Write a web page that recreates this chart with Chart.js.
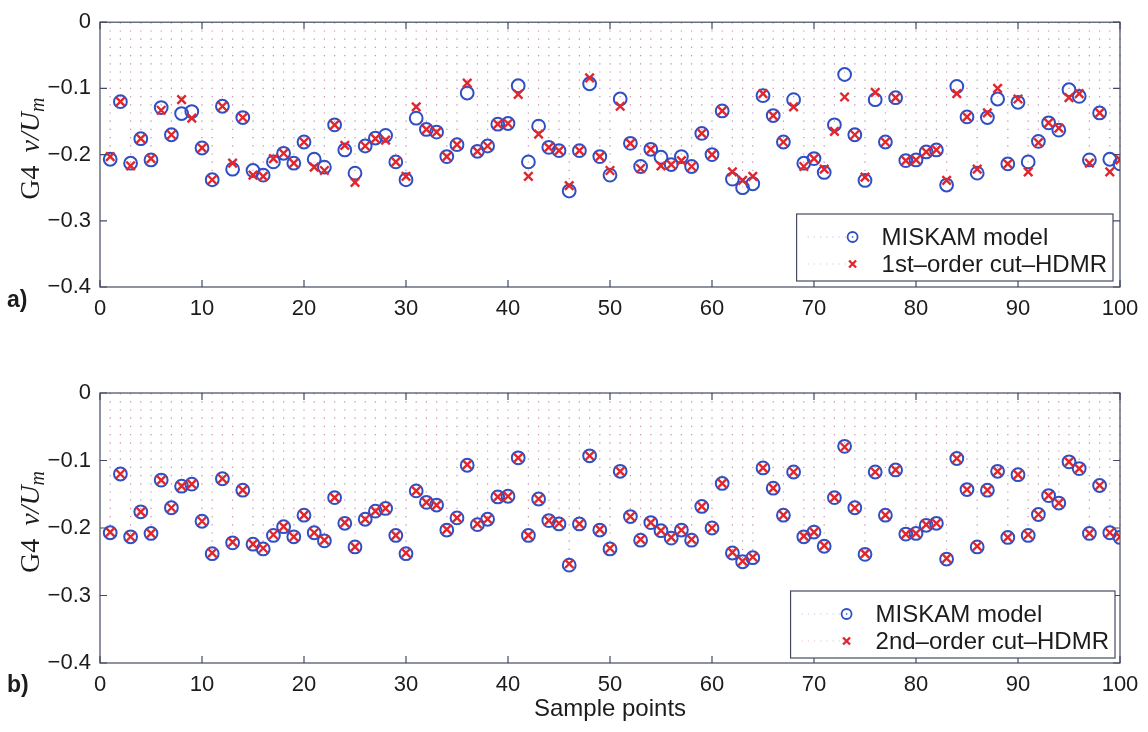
<!DOCTYPE html>
<html>
<head>
<meta charset="utf-8">
<script src="https://cdn.jsdelivr.net/npm/chart.js@4.4.0/dist/chart.umd.min.js"></script>
<style>
  html, body { margin: 0; padding: 0; background: #fff; }
  #wrap { position: relative; width: 1148px; height: 732px; }
  canvas { position: absolute; left: 0; }
  #panel-a { top: 0; }
  #panel-b { top: 366px; }
</style>
</head>
<body>
<div id="wrap">
  <canvas id="panel-a" width="1148" height="366"></canvas>
  <canvas id="panel-b" width="1148" height="366"></canvas>
</div>
<script>
// Datos: G4 v/U_m en cada punto de muestra
const samplePoints = [
  1, 2, 3, 4, 5, 6, 7, 8, 9, 10, 11, 12, 13, 14, 15, 16, 17, 18, 19, 20,
  21, 22, 23, 24, 25, 26, 27, 28, 29, 30, 31, 32, 33, 34, 35, 36, 37, 38, 39, 40,
  41, 42, 43, 44, 45, 46, 47, 48, 49, 50, 51, 52, 53, 54, 55, 56, 57, 58, 59, 60,
  61, 62, 63, 64, 65, 66, 67, 68, 69, 70, 71, 72, 73, 74, 75, 76, 77, 78, 79, 80,
  81, 82, 83, 84, 85, 86, 87, 88, 89, 90, 91, 92, 93, 94, 95, 96, 97, 98, 99, 100
];

const miskam = [
  -0.207, -0.120, -0.213, -0.176, -0.208, -0.129, -0.170, -0.138, -0.135, -0.190,
  -0.238, -0.127, -0.222, -0.144, -0.224, -0.231, -0.211, -0.198, -0.213, -0.181,
  -0.207, -0.219, -0.155, -0.193, -0.228, -0.187, -0.175, -0.171, -0.211, -0.238,
  -0.145, -0.162, -0.166, -0.203, -0.185, -0.107, -0.195, -0.187, -0.154, -0.153,
  -0.096, -0.211, -0.157, -0.189, -0.194, -0.255, -0.194, -0.093, -0.203, -0.231,
  -0.116, -0.183, -0.218, -0.192, -0.204, -0.215, -0.203, -0.218, -0.168, -0.200,
  -0.134, -0.237, -0.250, -0.244, -0.111, -0.141, -0.181, -0.117, -0.213, -0.206,
  -0.227, -0.155, -0.079, -0.170, -0.239, -0.117, -0.181, -0.114, -0.209, -0.208,
  -0.196, -0.193, -0.246, -0.097, -0.143, -0.228, -0.144, -0.116, -0.214, -0.121,
  -0.211, -0.180, -0.152, -0.163, -0.102, -0.112, -0.208, -0.137, -0.207, -0.214
];

const hdmr1 = [
  -0.203, -0.120, -0.217, -0.176, -0.206, -0.133, -0.170, -0.117, -0.145, -0.190,
  -0.238, -0.127, -0.213, -0.144, -0.231, -0.233, -0.206, -0.198, -0.213, -0.181,
  -0.219, -0.224, -0.155, -0.186, -0.242, -0.187, -0.176, -0.178, -0.211, -0.233,
  -0.128, -0.162, -0.166, -0.203, -0.185, -0.092, -0.195, -0.187, -0.154, -0.153,
  -0.109, -0.233, -0.169, -0.189, -0.194, -0.247, -0.194, -0.084, -0.203, -0.224,
  -0.127, -0.183, -0.221, -0.192, -0.217, -0.215, -0.209, -0.218, -0.168, -0.200,
  -0.134, -0.226, -0.239, -0.233, -0.108, -0.141, -0.181, -0.128, -0.218, -0.206,
  -0.222, -0.165, -0.113, -0.170, -0.234, -0.106, -0.181, -0.114, -0.209, -0.208,
  -0.196, -0.193, -0.239, -0.108, -0.143, -0.222, -0.137, -0.100, -0.214, -0.116,
  -0.226, -0.182, -0.152, -0.160, -0.114, -0.108, -0.213, -0.137, -0.226, -0.208
];

const hdmr2 = [
  -0.206, -0.120, -0.213, -0.176, -0.208, -0.129, -0.170, -0.138, -0.135, -0.190,
  -0.237, -0.127, -0.221, -0.144, -0.224, -0.230, -0.210, -0.198, -0.213, -0.181,
  -0.207, -0.218, -0.155, -0.192, -0.228, -0.187, -0.175, -0.171, -0.211, -0.237,
  -0.145, -0.162, -0.166, -0.202, -0.185, -0.106, -0.194, -0.187, -0.154, -0.153,
  -0.096, -0.211, -0.157, -0.189, -0.193, -0.253, -0.194, -0.093, -0.202, -0.230,
  -0.116, -0.183, -0.217, -0.192, -0.204, -0.214, -0.203, -0.217, -0.168, -0.200,
  -0.134, -0.236, -0.249, -0.243, -0.111, -0.141, -0.181, -0.117, -0.212, -0.206,
  -0.226, -0.155, -0.080, -0.170, -0.238, -0.117, -0.181, -0.114, -0.209, -0.208,
  -0.195, -0.193, -0.245, -0.097, -0.143, -0.227, -0.144, -0.116, -0.214, -0.121,
  -0.210, -0.180, -0.152, -0.163, -0.102, -0.112, -0.208, -0.137, -0.207, -0.213
];

const xRange = [0, 100];
const xStep = 10;
const yRange = [-0.4, 0];
const yStep = 0.1;

const SANS = "'Liberation Sans', Arial, sans-serif";
const SERIF = "'Liberation Serif', 'Times New Roman', serif";
const TEXT = '#1c1c1c';
const FRAME = '#454a62';
const BLUE = '#2f4fc4';
const RED = '#e2262d';

const toPoints = (values) => values.map((v, i) => ({ x: samplePoints[i], y: v }));

// Plugin: tallos punteados, marco con marcas internas, leyenda y etiquetas
const matlabPanel = {
  id: 'matlabPanel',
  beforeDatasetsDraw(chart) {
    const ctx = chart.ctx;
    const y0 = chart.scales.y.getPixelForValue(0);
    ctx.save();
    ctx.lineWidth = 1.2;
    ctx.setLineDash([1.2, 7]);
    chart.data.datasets.forEach((ds, i) => {
      ctx.strokeStyle = ds.stemColor;
      chart.getDatasetMeta(i).data.forEach(pt => {
        ctx.beginPath();
        ctx.moveTo(pt.x, y0);
        ctx.lineTo(pt.x, pt.y);
        ctx.stroke();
      });
    });
    ctx.restore();
  },
  afterDraw(chart, args, opts) {
    const ctx = chart.ctx;
    const a = chart.chartArea;
    const xs = chart.scales.x;
    const ys = chart.scales.y;

    ctx.save();
    // marco
    ctx.strokeStyle = FRAME;
    ctx.lineWidth = 1.2;
    ctx.strokeRect(a.left, a.top, a.right - a.left, a.bottom - a.top);

    // marcas hacia adentro en los cuatro lados
    const tl = 7;
    ctx.beginPath();
    xs.ticks.forEach(t => {
      const px = xs.getPixelForValue(t.value);
      ctx.moveTo(px, a.bottom); ctx.lineTo(px, a.bottom - tl);
      ctx.moveTo(px, a.top); ctx.lineTo(px, a.top + tl);
    });
    ys.ticks.forEach(t => {
      const py = ys.getPixelForValue(t.value);
      ctx.moveTo(a.left, py); ctx.lineTo(a.left + tl, py);
      ctx.moveTo(a.right, py); ctx.lineTo(a.right - tl, py);
    });
    ctx.stroke();

    // leyenda
    ctx.font = '24px ' + SANS;
    const entries = chart.data.datasets.slice().sort((p, q) => q.order - p.order);
    const textW = Math.max(...entries.map(d => ctx.measureText(d.label).width));
    const boxW = 85 + textW + 6;
    const boxH = 67;
    const bx = a.right - opts.legendRight - boxW;
    const by = a.bottom - opts.legendBottom - boxH;
    ctx.fillStyle = '#fff';
    ctx.fillRect(bx, by, boxW, boxH);
    ctx.strokeStyle = FRAME;
    ctx.lineWidth = 1.2;
    ctx.strokeRect(bx, by, boxW, boxH);
    entries.forEach((ds, i) => {
      const ry = by + 23 + i * 27;
      ctx.save();
      ctx.strokeStyle = ds.stemColor;
      ctx.lineWidth = 1.2;
      ctx.setLineDash([1.2, 5]);
      ctx.beginPath();
      ctx.moveTo(bx + 11, ry);
      ctx.lineTo(bx + 52, ry);
      ctx.stroke();
      ctx.restore();
      ctx.strokeStyle = ds.borderColor;
      ctx.beginPath();
      if (ds.pointStyle === 'circle') {
        ctx.lineWidth = 1.8;
        ctx.arc(bx + 56, ry, 5, 0, Math.PI * 2);
        ctx.stroke();
        ctx.fillStyle = ds.borderColor;
        ctx.fillRect(bx + 55.3, ry - 0.7, 1.4, 1.4);
      } else {
        ctx.lineWidth = 2.4;
        ctx.moveTo(bx + 52.5, ry - 3.5); ctx.lineTo(bx + 59.5, ry + 3.5);
        ctx.moveTo(bx + 59.5, ry - 3.5); ctx.lineTo(bx + 52.5, ry + 3.5);
        ctx.stroke();
      }
      ctx.fillStyle = TEXT;
      ctx.textBaseline = 'middle';
      ctx.textAlign = 'left';
      ctx.fillText(ds.label, bx + 85, ry + 1);
    });

    // etiqueta del eje y: G4 v/U_m
    const cy = (a.top + a.bottom) / 2 - 6;
    ctx.translate(32, cy);
    ctx.rotate(-Math.PI / 2);
    ctx.fillStyle = TEXT;
    ctx.textBaseline = 'middle';
    ctx.textAlign = 'left';
    const partA = 'G4 ';
    const partB = 'v/U';
    const partC = 'm';
    ctx.font = '28px ' + SERIF;
    const wA = ctx.measureText(partA).width + 6;
    ctx.font = 'italic 28px ' + SERIF;
    const wB = ctx.measureText(partB).width;
    ctx.font = 'italic 20px ' + SERIF;
    const wC = ctx.measureText(partC).width;
    let tx = -(wA + wB + wC) / 2;
    ctx.font = '28px ' + SERIF;
    ctx.fillText(partA, tx, 0);
    tx += wA;
    ctx.font = 'italic 28px ' + SERIF;
    ctx.fillText(partB, tx, 0);
    tx += wB;
    ctx.font = 'italic 20px ' + SERIF;
    ctx.fillText(partC, tx, 7);
    ctx.setTransform(1, 0, 0, 1, 0, 0);

    // letra del panel
    ctx.font = 'bold 23px ' + SANS;
    ctx.fillStyle = TEXT;
    ctx.textBaseline = 'middle';
    ctx.textAlign = 'left';
    ctx.fillText(opts.letter, 7, opts.letterY);
    ctx.restore();
  }
};

const makePanel = (canvasId, approx, approxLabel, panelOpts, layoutPad, xAxisH, showTitle) => {
  return new Chart(document.getElementById(canvasId), {
    type: 'scatter',
    data: {
      datasets: [
        {
          label: 'MISKAM model',
          data: toPoints(miskam),
          order: 2,
          pointStyle: 'circle',
          pointRadius: 6.4,
          pointBorderWidth: 2,
          borderColor: BLUE,
          backgroundColor: 'rgba(0,0,0,0)',
          stemColor: 'rgba(80, 110, 215, 0.42)'
        },
        {
          label: approxLabel,
          data: toPoints(approx),
          order: 1,
          pointStyle: 'crossRot',
          pointRadius: 6,
          pointBorderWidth: 2.4,
          borderColor: RED,
          backgroundColor: RED,
          stemColor: 'rgba(235, 80, 80, 0.38)'
        }
      ]
    },
    options: {
      responsive: false,
      animation: false,
      events: [],
      layout: { padding: layoutPad },
      plugins: {
        legend: { display: false },
        tooltip: { enabled: false },
        matlabPanel: panelOpts
      },
      scales: {
        x: {
          type: 'linear',
          min: xRange[0],
          max: xRange[1],
          grid: { display: false, drawTicks: false },
          border: { display: false },
          afterFit: (s) => { s.height = xAxisH; },
          ticks: {
            stepSize: xStep,
            padding: 9,
            color: TEXT,
            font: { family: SANS, size: 22 },
            maxRotation: 0,
            autoSkip: false
          },
          title: {
            display: showTitle,
            text: 'Sample points',
            color: TEXT,
            font: { family: SANS, size: 24 },
            padding: { top: 2, bottom: 2 }
          }
        },
        y: {
          min: yRange[0],
          max: yRange[1],
          grid: { display: false, drawTicks: false },
          border: { display: false },
          afterFit: (s) => { s.width = 100; },
          ticks: {
            stepSize: yStep,
            padding: 9,
            color: TEXT,
            font: { family: SANS, size: 22 },
            callback: (v) => (Math.abs(v) < 1e-9 ? '0' : '\u2212' + Math.abs(v).toFixed(1))
          }
        }
      }
    },
    plugins: [matlabPanel]
  });
};

makePanel('panel-a', hdmr1, '1st\u2013order cut\u2013HDMR',
  { letter: 'a)', letterY: 301, legendRight: 7, legendBottom: 6 },
  { top: 17, left: 0, right: 28, bottom: 39 }, 40, false);

makePanel('panel-b', hdmr2, '2nd\u2013order cut\u2013HDMR',
  { letter: 'b)', letterY: 320, legendRight: 5, legendBottom: 5 },
  { top: 27, left: 0, right: 28, bottom: 6 }, 63, true);
</script>
</body>
</html>
